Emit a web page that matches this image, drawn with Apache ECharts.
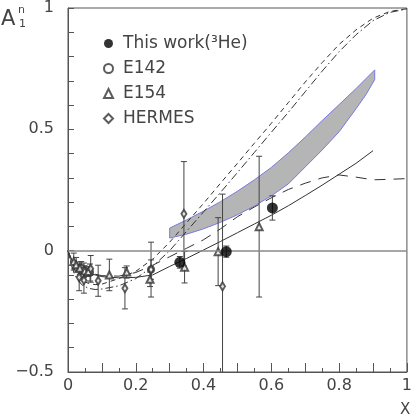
<!DOCTYPE html>
<html>
<head>
<meta charset="utf-8">
<script src="https://cdn.jsdelivr.net/npm/echarts@6/dist/echarts.min.js"></script>
<style>html,body{margin:0;padding:0;background:#fff}#c{width:415px;height:415px}</style>
</head>
<body>
<div id="c"></div>
<script>
// ---------- data ----------
const xTickLabels = ['0', '0.2', '0.4', '0.6', '0.8', '1'];
const yTickLabels = ['\u22120.5', '0', '0.5', '1'];
const seriesNames = ['This work(\u00B3He)', 'E142', 'E154', 'HERMES'];

const thisWorkX = [0.33, 0.467, 0.603];
const thisWorkY = [-0.048, -0.004, 0.176];
const thisWorkErr = [0.024, 0.023, 0.05];

const e142X = [0.039, 0.047, 0.065, 0.245];
const e142Y = [-0.07, -0.081, -0.09, -0.078];
const e142Err = [0.025, 0.03, 0.035, 0.04];

const e154X = [0.017, 0.024, 0.035, 0.049, 0.06, 0.122, 0.173, 0.242, 0.344, 0.443, 0.564];
const e154Y = [-0.045, -0.058, -0.072, -0.084, -0.086, -0.1, -0.088, -0.118, -0.068, -0.004, 0.099];
const e154Err = [0.035, 0.03, 0.025, 0.022, 0.02, 0.065, 0.025, 0.03, 0.065, 0.14, 0.29];

const hermesX = [0.033, 0.047, 0.067, 0.089, 0.168, 0.245, 0.342, 0.456];
const hermesY = [-0.11, -0.122, -0.075, -0.124, -0.155, -0.078, 0.152, -0.147];
const hermesErr = [0.055, 0.053, 0.055, 0.064, 0.085, 0.113, 0.215, 0.38];

const solidX = [0, 0.01, 0.02, 0.04, 0.06, 0.08, 0.1, 0.15, 0.2, 0.25, 0.3, 0.35, 0.4, 0.45, 0.5, 0.55, 0.6, 0.65, 0.7, 0.75, 0.8, 0.85, 0.9];
const solidY = [0, -0.035, -0.055, -0.078, -0.092, -0.1, -0.107, -0.112, -0.11, -0.1, -0.065, -0.032, 0.003, 0.038, 0.074, 0.11, 0.146, 0.185, 0.227, 0.27, 0.315, 0.36, 0.412];

const curveX = [0, 0.01, 0.02, 0.04, 0.06, 0.08, 0.1, 0.15, 0.2, 0.25, 0.3, 0.35, 0.4, 0.45, 0.5, 0.55, 0.6, 0.65, 0.7, 0.75, 0.8, 0.85, 0.9, 0.95, 1.0];
const longDashY = [0, -0.035, -0.055, -0.075, -0.088, -0.097, -0.103, -0.105, -0.09, -0.06, -0.025, 0.01, 0.045, 0.09, 0.14, 0.18, 0.218, 0.252, 0.278, 0.3, 0.312, 0.303, 0.292, 0.294, 0.297];
const shortDashY = [0, -0.05, -0.08, -0.12, -0.135, -0.14, -0.138, -0.115, -0.085, -0.035, 0.035, 0.115, 0.195, 0.278, 0.36, 0.443, 0.525, 0.61, 0.695, 0.775, 0.85, 0.91, 0.958, 0.986, 0.997];
const dashDotY = [0, -0.06, -0.1, -0.14, -0.155, -0.16, -0.158, -0.145, -0.115, -0.065, 0.0, 0.08, 0.16, 0.24, 0.322, 0.405, 0.488, 0.57, 0.655, 0.74, 0.82, 0.89, 0.948, 0.982, 0.996];

const bandX = [0.3, 0.35, 0.4, 0.45, 0.5, 0.55, 0.6, 0.65, 0.7, 0.75, 0.8, 0.85, 0.88, 0.905];
const bandHi = [0.093, 0.127, 0.163, 0.202, 0.245, 0.292, 0.343, 0.403, 0.468, 0.536, 0.602, 0.668, 0.71, 0.745];
const bandLo = [0.052, 0.068, 0.09, 0.117, 0.148, 0.184, 0.226, 0.275, 0.345, 0.415, 0.49, 0.585, 0.645, 0.705];

// ---------- helpers ----------
const zip = (xs, ys) => xs.map((x, i) => [x, ys[i]]);
const zip3 = (xs, ys, es) => xs.map((x, i) => [x, ys[i], es[i]]);
const FONT = 'DejaVu Sans';
const INK = '#333';

function errorBarSeries(xs, ys, es) {
  return {
    type: 'custom', silent: true, clip: true, z: 3,
    data: zip3(xs, ys, es),
    renderItem: function (params, api) {
      const x = api.value(0), y = api.value(1), e = api.value(2);
      const lo = api.coord([x, y - e]), hi = api.coord([x, y + e]);
      const w = 3;
      const st = { stroke: '#444', lineWidth: 1 };
      return {
        type: 'group',
        children: [
          { type: 'line', shape: { x1: lo[0], y1: lo[1], x2: hi[0], y2: hi[1] }, style: st },
          { type: 'line', shape: { x1: lo[0] - w, y1: lo[1], x2: lo[0] + w, y2: lo[1] }, style: st },
          { type: 'line', shape: { x1: hi[0] - w, y1: hi[1], x2: hi[0] + w, y2: hi[1] }, style: st }
        ]
      };
    }
  };
}

function curve(xs, ys, dash) {
  return {
    type: 'line', silent: true, symbol: 'none', z: 2,
    data: zip(xs, ys),
    lineStyle: { color: INK, width: 1, type: dash }
  };
}

const chart = echarts.init(document.getElementById('c'), null, { renderer: 'canvas' });

chart.setOption({
  animation: false,
  backgroundColor: '#fff',
  grid: { left: 68, right: 3, top: 7, bottom: 43, show: true, borderColor: '#555', borderWidth: 1 },
  xAxis: {
    type: 'value', min: 0, max: 1, interval: 0.1,
    axisLine: { show: true, onZero: false, lineStyle: { color: '#555' } },
    axisTick: { show: true, inside: true, length: 9, lineStyle: { color: '#555' } },
    minorTick: { show: true, splitNumber: 2, length: 4, lineStyle: { color: '#555' } },
    splitLine: { show: false },
    axisLabel: {
      color: '#444', fontFamily: FONT, fontSize: 16, margin: 6,
      formatter: function (v) {
        const k = Math.round(v * 10);
        return k % 2 === 0 ? xTickLabels[k / 2] : '';
      }
    }
  },
  yAxis: {
    type: 'value', min: -0.5, max: 1, interval: 0.1,
    axisLine: { show: true, onZero: false, lineStyle: { color: '#555' } },
    axisTick: { show: true, inside: true, length: 6, lineStyle: { color: '#555' } },
    splitLine: { show: false },
    axisLabel: {
      color: '#444', fontFamily: FONT, fontSize: 16, margin: 14,
      formatter: function (v) {
        const k = Math.round(v * 10) + 5;
        return k % 5 === 0 ? yTickLabels[k / 5] : '';
      }
    }
  },
  legend: {
    orient: 'vertical', left: 98, top: 29, itemGap: 6,
    itemWidth: 9, itemHeight: 9, selectedMode: false,
    textStyle: { color: '#444', fontFamily: FONT, fontSize: 17, lineHeight: 19, padding: [0, 0, 0, 5] },
    data: [
      { name: seriesNames[0], icon: 'circle' },
      { name: seriesNames[1], icon: 'emptyCircle', itemStyle: { borderWidth: 1 } },
      { name: seriesNames[2], icon: 'emptyTriangle', itemStyle: { borderWidth: 1 } },
      { name: seriesNames[3], icon: 'emptyDiamond', itemStyle: { borderWidth: 1 } }
    ]
  },
  graphic: [
    { type: 'text', left: 1, top: 9, style: { text: 'A', fontFamily: FONT, fontSize: 21, fill: '#444' } },
    { type: 'text', left: 18, top: 5, style: { text: 'n', fontFamily: FONT, fontSize: 11, fill: '#444' } },
    { type: 'text', left: 19, top: 19, style: { text: '1', fontFamily: FONT, fontSize: 11, fill: '#444' } },
    { type: 'text', left: 400, top: 403, style: { text: 'X', fontFamily: FONT, fontSize: 15, fill: '#444' } }
  ],
  series: [
    {
      type: 'custom', silent: true, clip: true, z: 1,
      data: zip3(bandX, bandLo, bandHi),
      renderItem: function (params, api) {
        if (params.dataIndex !== 0) return null;
        const pts = [];
        for (let i = 0; i < bandX.length; i++) pts.push(api.coord([bandX[i], bandHi[i]]));
        for (let i = bandX.length - 1; i >= 0; i--) pts.push(api.coord([bandX[i], bandLo[i]]));
        return { type: 'polygon', shape: { points: pts, smooth: 0 }, style: { fill: '#b5b5b5', stroke: '#7a7ae0', lineWidth: 1 } };
      }
    },
    Object.assign(curve(solidX, solidY, 'solid'), {
      markLine: {
        silent: true, symbol: 'none', label: { show: false },
        lineStyle: { color: '#888', width: 1.5, type: 'solid' },
        data: [{ yAxis: 0 }]
      }
    }),
    curve(curveX, longDashY, [11, 8]),
    curve(curveX, shortDashY, [5, 4]),
    curve(curveX, dashDotY, [8, 3, 1.5, 3]),
    errorBarSeries(thisWorkX, thisWorkY, thisWorkErr),
    errorBarSeries(e142X, e142Y, e142Err),
    errorBarSeries(e154X, e154Y, e154Err),
    errorBarSeries(hermesX, hermesY, hermesErr),
    {
      name: seriesNames[1], type: 'scatter', z: 4, symbol: 'emptyCircle', symbolSize: 6,
      itemStyle: { color: INK, borderColor: INK, borderWidth: 1 },
      data: zip(e142X, e142Y)
    },
    {
      name: seriesNames[2], type: 'scatter', z: 4, symbol: 'emptyTriangle', symbolSize: 7,
      itemStyle: { color: INK, borderColor: INK, borderWidth: 1 },
      data: zip(e154X, e154Y)
    },
    {
      name: seriesNames[3], type: 'scatter', z: 4, symbol: 'emptyDiamond', symbolSize: [5, 8],
      itemStyle: { color: INK, borderColor: INK, borderWidth: 1 },
      data: zip(hermesX, hermesY)
    },
    {
      name: seriesNames[0], type: 'scatter', z: 5, symbol: 'circle', symbolSize: 11,
      itemStyle: { color: '#000' },
      data: zip(thisWorkX, thisWorkY)
    }
  ]
});
</script>
</body>
</html>
